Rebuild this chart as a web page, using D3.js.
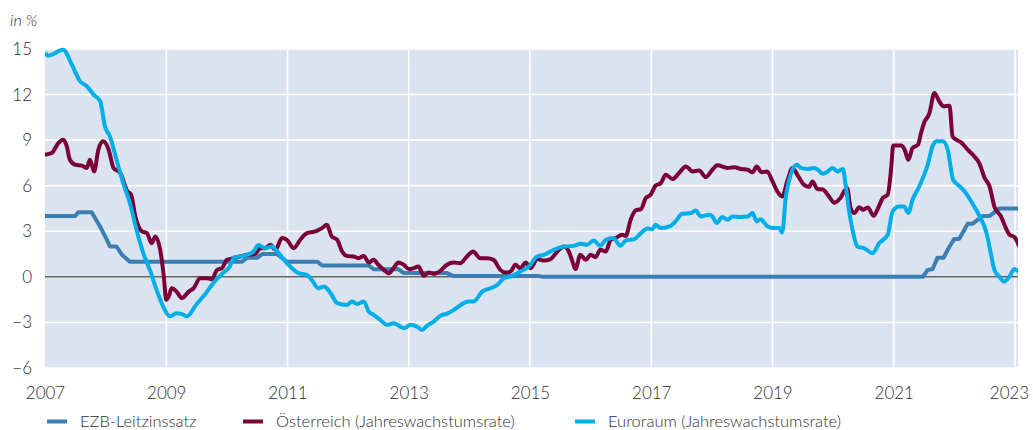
<!DOCTYPE html>
<html>
<head>
<meta charset="utf-8">
<script src="https://cdn.jsdelivr.net/npm/d3@7"></script>
<style>
  body { margin: 0; background: #fff; }
  svg text { font-family: Lato, "Open Sans", sans-serif; font-weight: 300; fill: #2e2e2e; }
</style>
</head>
<body>
<script>
// [decimal year, value]
var ezbLeitzins = [[2007.00,4.0],[2007.50,4.0],[2007.55,4.25],[2007.77,4.25],[2007.91,3.3],[2008.02,2.45],[2008.07,2.0],[2008.18,2.0],[2008.27,1.45],[2008.40,1.0],[2010.25,1.0],[2010.33,1.25],[2010.50,1.25],[2010.58,1.5],[2010.83,1.5],[2010.99,1.0],[2011.49,1.0],[2011.57,0.75],[2012.34,0.75],[2012.42,0.5],[2012.83,0.5],[2012.92,0.25],[2013.63,0.25],[2013.74,0.05],[2015.15,0.05],[2015.22,0.0],[2021.48,0.0],[2021.56,0.46],[2021.64,0.5],[2021.72,1.25],[2021.82,1.25],[2021.92,2.0],[2022.00,2.5],[2022.08,2.5],[2022.22,3.5],[2022.30,3.5],[2022.47,4.0],[2022.58,4.0],[2022.74,4.5],[2023.08,4.5]];

var oesterreich = [[2007.00,8.04],[2007.11,8.15],[2007.22,8.81],[2007.30,9.03],[2007.36,8.59],[2007.41,7.71],[2007.50,7.38],[2007.61,7.32],[2007.69,7.17],[2007.74,7.71],[2007.81,6.94],[2007.88,8.37],[2007.96,8.92],[2008.05,8.37],[2008.13,7.17],[2008.24,6.84],[2008.36,5.62],[2008.42,5.41],[2008.49,3.97],[2008.60,2.99],[2008.68,2.88],[2008.76,2.22],[2008.82,2.66],[2008.90,1.78],[2008.96,0.02],[2009.00,-1.52],[2009.04,-1.3],[2009.09,-0.75],[2009.17,-0.97],[2009.26,-1.4],[2009.37,-0.97],[2009.45,-0.75],[2009.56,-0.09],[2009.67,-0.09],[2009.75,-0.15],[2009.84,0.46],[2009.92,0.57],[2010.00,1.12],[2010.11,1.23],[2010.22,1.34],[2010.33,1.45],[2010.47,1.52],[2010.55,1.89],[2010.63,1.89],[2010.72,2.11],[2010.80,1.78],[2010.91,2.55],[2010.99,2.44],[2011.10,1.89],[2011.21,2.44],[2011.32,2.88],[2011.46,2.99],[2011.57,3.21],[2011.65,3.43],[2011.73,2.66],[2011.82,2.44],[2011.90,1.67],[2011.98,1.38],[2012.09,1.34],[2012.17,1.23],[2012.26,1.38],[2012.34,0.94],[2012.42,1.12],[2012.50,0.79],[2012.59,0.46],[2012.67,0.24],[2012.75,0.57],[2012.83,0.94],[2012.92,0.79],[2013.00,0.51],[2013.08,0.57],[2013.16,0.68],[2013.25,0.07],[2013.33,0.28],[2013.41,0.2],[2013.52,0.4],[2013.63,0.8],[2013.74,0.94],[2013.85,0.9],[2013.96,1.34],[2014.06,1.67],[2014.18,1.23],[2014.29,1.23],[2014.40,1.12],[2014.51,0.46],[2014.60,0.28],[2014.68,0.35],[2014.76,0.79],[2014.84,0.57],[2014.93,0.94],[2015.01,0.57],[2015.12,1.17],[2015.23,1.07],[2015.34,1.17],[2015.45,1.67],[2015.56,2.0],[2015.64,1.67],[2015.70,1.01],[2015.75,0.51],[2015.83,1.45],[2015.92,1.12],[2016.00,1.45],[2016.08,1.3],[2016.16,1.78],[2016.25,1.67],[2016.33,2.44],[2016.41,2.55],[2016.52,2.77],[2016.58,2.7],[2016.66,3.76],[2016.74,4.37],[2016.83,4.46],[2016.91,5.19],[2016.99,5.41],[2017.07,6.0],[2017.16,6.18],[2017.24,6.72],[2017.35,6.44],[2017.46,6.84],[2017.57,7.27],[2017.68,6.94],[2017.79,7.0],[2017.90,6.57],[2018.01,7.05],[2018.09,7.34],[2018.26,7.17],[2018.37,7.21],[2018.48,7.1],[2018.59,7.05],[2018.67,6.88],[2018.74,7.27],[2018.82,6.88],[2018.91,6.94],[2019.00,6.28],[2019.08,5.62],[2019.16,5.29],[2019.25,6.39],[2019.33,7.17],[2019.41,6.72],[2019.52,6.06],[2019.60,5.91],[2019.66,6.28],[2019.74,5.78],[2019.83,5.75],[2019.93,5.3],[2020.02,4.88],[2020.12,5.19],[2020.23,5.85],[2020.29,4.5],[2020.35,4.2],[2020.43,4.59],[2020.49,4.42],[2020.57,4.57],[2020.67,4.02],[2020.73,4.42],[2020.82,5.19],[2020.90,5.41],[2020.96,7.27],[2020.99,8.64],[2021.12,8.64],[2021.18,8.37],[2021.24,7.71],[2021.31,8.48],[2021.40,8.7],[2021.45,9.47],[2021.50,10.13],[2021.59,10.79],[2021.67,12.11],[2021.75,11.56],[2021.82,11.23],[2021.92,11.27],[2021.97,9.25],[2022.03,9.03],[2022.11,8.85],[2022.22,8.37],[2022.33,7.93],[2022.41,7.49],[2022.50,6.51],[2022.58,5.95],[2022.66,4.63],[2022.77,3.97],[2022.85,3.21],[2022.91,2.77],[2022.99,2.62],[2023.07,2.0]];

var euroraum = [[2007.00,14.75],[2007.05,14.57],[2007.30,14.95],[2007.44,14.0],[2007.58,12.87],[2007.69,12.55],[2007.80,12.0],[2007.91,11.56],[2007.99,9.9],[2008.07,9.25],[2008.18,7.7],[2008.29,6.18],[2008.40,4.86],[2008.51,3.1],[2008.62,1.56],[2008.73,0.46],[2008.84,-0.86],[2008.95,-1.96],[2009.06,-2.6],[2009.17,-2.4],[2009.26,-2.45],[2009.34,-2.6],[2009.50,-1.8],[2009.64,-1.15],[2009.80,-0.3],[2009.92,0.2],[2010.05,0.7],[2010.12,1.3],[2010.22,1.34],[2010.33,1.45],[2010.44,1.67],[2010.52,2.1],[2010.63,1.89],[2010.74,2.0],[2010.83,1.67],[2010.99,0.9],[2011.18,0.24],[2011.32,0.13],[2011.40,-0.2],[2011.51,-0.75],[2011.60,-0.64],[2011.71,-1.07],[2011.82,-1.73],[2011.98,-1.85],[2012.06,-1.63],[2012.15,-1.78],[2012.26,-1.63],[2012.34,-2.29],[2012.42,-2.5],[2012.53,-2.83],[2012.64,-3.16],[2012.75,-3.05],[2012.92,-3.38],[2013.03,-3.16],[2013.14,-3.28],[2013.22,-3.49],[2013.30,-3.23],[2013.41,-2.95],[2013.52,-2.57],[2013.65,-2.39],[2013.74,-2.18],[2013.99,-1.63],[2014.07,-1.63],[2014.21,-0.97],[2014.35,-0.75],[2014.46,-0.53],[2014.57,-0.09],[2014.71,0.07],[2014.84,0.35],[2014.98,0.68],[2015.12,1.34],[2015.23,1.45],[2015.39,1.78],[2015.56,2.0],[2015.72,2.04],[2015.83,2.18],[2015.94,2.11],[2016.05,2.39],[2016.16,2.04],[2016.25,2.44],[2016.38,2.55],[2016.49,2.04],[2016.58,2.39],[2016.72,2.48],[2016.83,2.88],[2016.94,3.18],[2017.02,3.14],[2017.07,3.43],[2017.16,3.21],[2017.32,3.36],[2017.40,3.65],[2017.51,4.15],[2017.65,4.2],[2017.73,4.37],[2017.82,3.97],[2017.95,4.09],[2018.01,3.97],[2018.08,3.54],[2018.17,3.94],[2018.26,3.76],[2018.34,3.97],[2018.48,3.94],[2018.59,3.97],[2018.67,4.2],[2018.74,3.65],[2018.80,3.8],[2018.92,3.32],[2019.03,3.21],[2019.11,3.21],[2019.16,2.92],[2019.22,5.29],[2019.30,6.72],[2019.40,7.38],[2019.47,7.17],[2019.58,7.1],[2019.69,7.17],[2019.75,7.05],[2019.83,6.79],[2019.91,6.94],[2019.99,7.17],[2020.07,6.94],[2020.16,7.1],[2020.21,5.95],[2020.26,4.42],[2020.32,3.1],[2020.40,2.0],[2020.51,1.89],[2020.65,1.56],[2020.76,2.22],[2020.90,2.77],[2020.98,4.3],[2021.09,4.63],[2021.17,4.63],[2021.24,4.2],[2021.31,5.08],[2021.42,5.95],[2021.56,7.38],[2021.64,8.59],[2021.70,8.92],[2021.81,8.92],[2021.89,8.37],[2021.98,6.39],[2022.06,6.06],[2022.17,5.62],[2022.31,4.75],[2022.42,3.97],[2022.53,2.88],[2022.60,1.56],[2022.66,0.46],[2022.74,0.02],[2022.82,-0.31],[2022.91,0.02],[2022.99,0.51],[2023.07,0.28]];

var yearTicks = d3.range(2007, 2024, 2);
var valueTicks = d3.range(-6, 16, 3);
var seriesNames = ["EZB-Leitzinssatz", "Österreich (Jahreswachstumsrate)", "Euroraum (Jahreswachstumsrate)"];
var seriesColors = ["#3a7eb4", "#7a0036", "#00aee8"];

(function () {
    var width = 1033, height = 430,
        plotLeft = 45, plotRight = 1018, plotTop = 49, plotBottom = 368;

    var svg = d3.select("body").append("svg")
        .attr("width", width)
        .attr("height", height);

    var x = d3.scaleLinear().domain([2007, 2023]).range([plotLeft, 1015]);
    var y = d3.scaleLinear().domain([-6, 15]).range([plotBottom, plotTop]);

    // plot background
    svg.append("rect")
        .attr("x", plotLeft).attr("y", plotTop)
        .attr("width", plotRight - plotLeft).attr("height", plotBottom - plotTop)
        .attr("fill", "#dae3ef");

    // grid
    svg.append("g").selectAll("line")
        .data(valueTicks).enter().append("line")
        .attr("x1", plotLeft).attr("x2", plotRight)
        .attr("y1", function (d) { return y(d); })
        .attr("y2", function (d) { return y(d); })
        .style("stroke", "#fff").style("stroke-width", 1.6);

    svg.append("g").selectAll("line")
        .data(yearTicks.slice(1)).enter().append("line")
        .attr("x1", function (d) { return x(d); })
        .attr("x2", function (d) { return x(d); })
        .attr("y1", plotTop).attr("y2", plotBottom)
        .style("stroke", "#fff").style("stroke-width", 1.6);

    // zero line
    svg.append("line")
        .attr("x1", plotLeft).attr("x2", plotRight)
        .attr("y1", y(0)).attr("y2", y(0))
        .style("stroke", "#111").style("stroke-width", 1);

    // axes (labels only)
    var xAxis = svg.append("g")
        .attr("transform", "translate(0," + plotBottom + ")")
        .call(d3.axisBottom(x).tickValues(yearTicks).tickFormat(d3.format("d")).tickSize(0).tickPadding(19));
    var yAxis = svg.append("g")
        .attr("transform", "translate(" + plotLeft + ",0)")
        .call(d3.axisLeft(y).tickValues(valueTicks).tickSize(0).tickPadding(13));
    [xAxis, yAxis].forEach(function (a) {
        a.select(".domain").remove();
        a.selectAll("text").style("font-size", "17px").style("font-family", "Lato, sans-serif")
            .style("font-weight", 300).style("fill", "#2e2e2e");
    });
    // keep the last year label inside the picture
    xAxis.selectAll(".tick").filter(function (d) { return d === 2023; })
        .select("text").attr("dx", -6);

    svg.append("text")
        .attr("x", 10).attr("y", 26)
        .style("font-size", "16px").style("font-style", "italic")
        .text("in %");

    // lines
    svg.append("clipPath").attr("id", "clip")
        .append("rect").attr("x", plotLeft).attr("y", 30)
        .attr("width", plotRight - plotLeft).attr("height", 360);

    var stepLine = d3.line()
        .x(function (d) { return x(d[0]); })
        .y(function (d) { return y(d[1]); });
    var smoothLine = d3.line()
        .curve(d3.curveMonotoneX)
        .x(function (d) { return x(d[0]); })
        .y(function (d) { return y(d[1]); });

    var lines = svg.append("g").attr("clip-path", "url(#clip)");
    [[ezbLeitzins, stepLine], [oesterreich, smoothLine], [euroraum, smoothLine]].forEach(function (s, i) {
        lines.append("path")
            .datum(s[0])
            .attr("d", s[1])
            .style("fill", "none")
            .style("stroke", seriesColors[i])
            .style("stroke-width", 4)
            .style("stroke-linejoin", "round");
    });

    // legend
    var legendX = [47, 243, 575];
    var legend = svg.append("g").selectAll("g")
        .data(seriesNames).enter().append("g")
        .attr("transform", function (d, i) { return "translate(" + legendX[i] + ",421.5)"; });
    legend.append("line")
        .attr("x1", 0).attr("x2", 20)
        .style("stroke", function (d, i) { return seriesColors[i]; })
        .style("stroke-width", 4);
    legend.append("text")
        .attr("x", 33).attr("y", 5.5)
        .style("font-size", "16.5px")
        .text(function (d) { return d; });
})();
</script>
</body>
</html>
